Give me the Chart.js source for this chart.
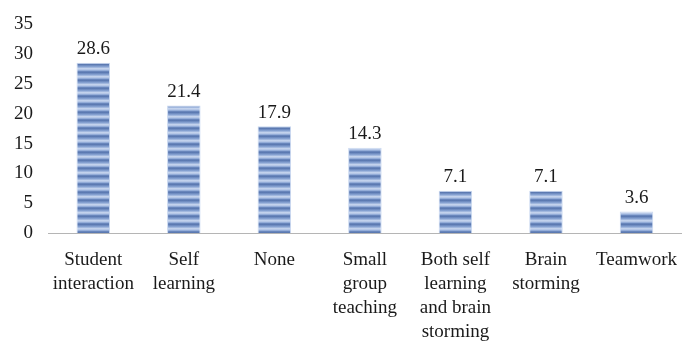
<!DOCTYPE html>
<html>
<head>
<meta charset="utf-8">
<script src="https://cdn.jsdelivr.net/npm/chart.js@4/dist/chart.umd.min.js"></script>
<style>
  html, body { margin: 0; padding: 0; background: #fff; }
  #wrap { width: 692px; height: 342px; }
</style>
</head>
<body>
<div id="wrap"><canvas id="chart"></canvas></div>
<script>
// Data
const categories = [
    ['Student', 'interaction'],
    ['Self', 'learning'],
    'None',
    ['Small', 'group', 'teaching'],
    ['Both self', 'learning', 'and brain', 'storming'],
    ['Brain', 'storming'],
    'Teamwork'
];
const percentValues = [28.6, 21.4, 17.9, 14.3, 7.1, 7.1, 3.6];
const yTicks = [0, 5, 10, 15, 20, 25, 30, 35];

const serif = '"Liberation Serif", "Times New Roman", serif';

// Striped fill for the bars (horizontal bands)
function makeStripes() {
    const c = document.createElement('canvas');
    c.width = 4; c.height = 8;
    const g = c.getContext('2d');
    const grad = g.createLinearGradient(0, 0, 0, 8);
    grad.addColorStop(0, '#5170aa');
    grad.addColorStop(0.35, '#8aa5d4');
    grad.addColorStop(0.6, '#cddaf1');
    grad.addColorStop(0.85, '#8aa5d4');
    grad.addColorStop(1, '#5170aa');
    g.fillStyle = grad;
    g.fillRect(0, 0, 4, 8);
    return g.createPattern(c, 'repeat');
}

// Value labels above the bars
const valueLabels = {
    id: 'valueLabels',
    afterDatasetsDraw(chart) {
        const ctx = chart.ctx;
        const meta = chart.getDatasetMeta(0);
        ctx.save();
        ctx.font = '19px ' + serif;
        ctx.fillStyle = '#1a1a1a';
        ctx.textAlign = 'center';
        ctx.textBaseline = 'bottom';
        meta.data.forEach((bar, i) => {
            ctx.fillText(percentValues[i].toFixed(1), bar.x, bar.y - 4);
        });
        ctx.restore();
    }
};

const ctx = document.getElementById('chart').getContext('2d');
new Chart(ctx, {
    type: 'bar',
    data: {
        labels: categories,
        datasets: [{
            data: percentValues,
            backgroundColor: makeStripes(),
            borderColor: '#c9d8f0',
            borderWidth: 1,
            categoryPercentage: 1,
            barPercentage: 0.37
        }]
    },
    options: {
        responsive: true,
        maintainAspectRatio: false,
        animation: false,
        layout: { padding: { top: 10, right: 0, left: 0, bottom: 0 } },
        plugins: { legend: { display: false }, tooltip: { enabled: false } },
        scales: {
            x: {
                grid: { display: false, drawTicks: false },
                border: { display: true, color: '#b5b5b5', width: 1 },
                ticks: {
                    color: '#1a1a1a',
                    font: { family: serif, size: 19, lineHeight: 1.27 },
                    padding: 15,
                    maxRotation: 0,
                    autoSkip: false
                },
                afterFit(scale) { scale.height = 109; }
            },
            y: {
                min: 0,
                max: 35,
                grid: { display: false, drawTicks: false },
                border: { display: false },
                afterBuildTicks(scale) { scale.ticks = yTicks.map(v => ({ value: v })); },
                ticks: {
                    color: '#1a1a1a',
                    font: { family: serif, size: 19, lineHeight: 1 },
                    padding: 15
                },
                afterFit(scale) { scale.width = 48; }
            }
        }
    },
    plugins: [valueLabels]
});
</script>
</body>
</html>
